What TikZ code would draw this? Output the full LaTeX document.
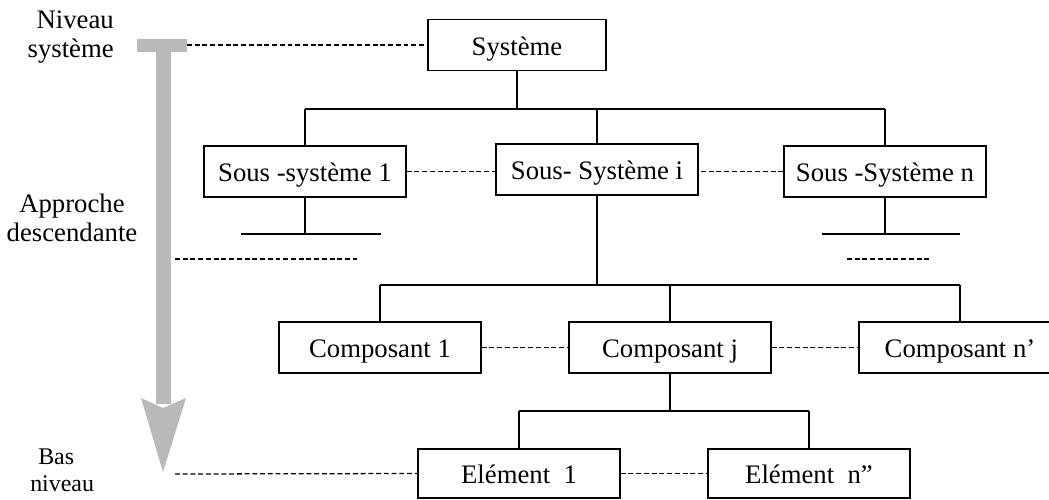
\documentclass[tikz,border=0pt]{standalone}
\usepackage{fontspec}
\setmainfont{Liberation Serif}
\usepackage{tikz}
\usetikzlibrary{calc}

\begin{document}
\begin{tikzpicture}[
    x=0.025cm, y=-0.025cm,
    font=\fontsize{19}{21}\selectfont,
    box/.style={rectangle, draw, line width=1pt, minimum width=5.05cm, minimum height=1.275cm, inner sep=0pt, align=center, text height=0.5cm, text depth=0pt},
    tree/.style={line width=1pt},
    link/.style={line width=0.9pt, dash pattern=on 3.5pt off 2pt},
    label/.style={inner sep=0pt},
    approach/.style={fill=gray!55, draw=none},
]

\useasboundingbox (0,0) rectangle (1049,499);

% Approach arrow (left)
\fill[approach] (137,39) rectangle (187,52);
\fill[approach] (156,52) rectangle (171,404);
\fill[approach] (141,398) -- (163,472) -- (186,398) -- (163,408) -- cycle;
\coordinate (barEnd) at (187,45);
\coordinate (tipEnd) at (175,474);

\node[label, anchor=east, align=right] (lvlTop) at (114,37) {Niveau\\système};
\node[label, align=center] (descent) at (72,218) {Approche\\descendante};
\node[label, anchor=west, align=left, font=\fontsize{17}{19}\selectfont] (lvlLow) at (30,470) {\hspace*{0.2cm}Bas\\niveau};

% System level
\node[box, minimum width=4.45cm] (sys) at (517,45) {Système};

% Sub-systems
\node[box] (s1) at (305,171.5) {Sous -système 1};
\node[box] (si) at (597,169.5) {Sous- Système i};
\node[box] (sn) at (885,171.5) {Sous -Système n};

% Components
\node[box] (c1) at (380,347.5) {Composant 1};
\node[box] (cj) at (670,347.5) {Composant j};
\node[box] (cn) at (960,347.5) {Composant n'};

% Elements
\node[box, minimum height=1.225cm] (e1) at (519,473.5) {Elément\ \ 1};
\node[box, minimum height=1.225cm] (en) at (809,473.5) {Elément\ \ n''};

% Tree: system -> sub-systems
\coordinate (busL) at (305,109);
\coordinate (busR) at (885,109);
\draw[tree] (sys.south) -- (sys.south |- busL);
\draw[tree] (busL) -- (busR);
\draw[tree] (busL) -- (s1.north);
\draw[tree] (si.north |- busL) -- (si.north);
\draw[tree] (busR) -- (sn.north);

% Stubs under the outer sub-systems
\coordinate (s1a) at (241,234);
\coordinate (s1b) at (381,234);
\coordinate (sna) at (822,234);
\coordinate (snb) at (960,234);
\draw[tree] (s1.south) -- (s1.south |- s1a);
\draw[tree] (s1a) -- (s1b);
\draw[tree] (sn.south) -- (sn.south |- sna);
\draw[tree] (sna) -- (snb);

% Tree: sub-system i -> components
\coordinate (cbusL) at (380,285);
\coordinate (cbusR) at (960,285);
\draw[tree] (si.south) -- (si.south |- cbusL);
\draw[tree] (cbusL) -- (cbusR);
\draw[tree] (cbusL) -- (c1.north);
\draw[tree] (cj.north |- cbusL) -- (cj.north);
\draw[tree] (cbusR) -- (cn.north);

% Tree: component j -> elements
\coordinate (ebusL) at (519,411);
\coordinate (ebusR) at (809,411);
\draw[tree] (cj.south) -- (cj.south |- ebusL);
\draw[tree] (ebusL) -- (ebusR);
\draw[tree] (ebusL) -- (e1.north);
\draw[tree] (ebusR) -- (en.north);

% Dashed links
\draw[link] (barEnd) -- (sys.west);
\draw[link] (s1.east) -- (s1.east -| si.west);
\draw[link] (sn.west) -- (sn.west -| si.east);
\draw[link] (c1) -- (cj);
\draw[link] (cj) -- (cn);
\draw[link] (e1) -- (en);
\draw[link] (tipEnd) -- (e1.west);

% Dots for the other branches
\coordinate (dotsLa) at (175,259);
\coordinate (dotsLb) at (357,259);
\coordinate (dotsRa) at (847,259);
\coordinate (dotsRb) at (931,259);
\draw[link] (dotsLa) -- (dotsLb);
\draw[link] (dotsRa) -- (dotsRb);

\end{tikzpicture}
\end{document}
